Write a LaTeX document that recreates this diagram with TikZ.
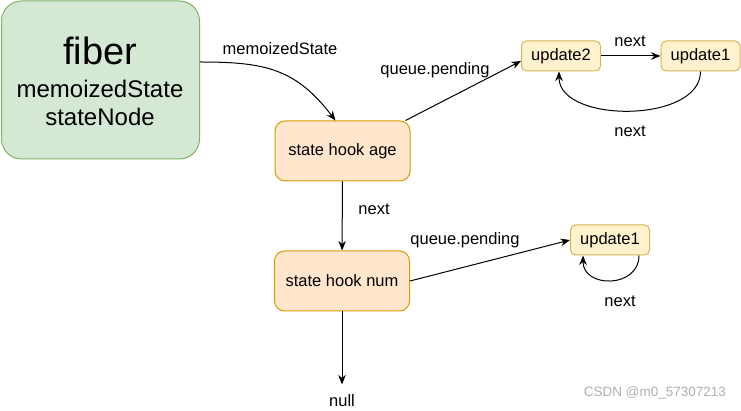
\documentclass[tikz,border=0pt]{standalone}
\usepackage{fontspec}
\setmainfont{Liberation Sans}
\usepackage{tikz}
\usetikzlibrary{arrows.meta}

\definecolor{fibfill}{HTML}{D5E8D4}
\definecolor{fibline}{HTML}{82B366}
\definecolor{hookfill}{HTML}{FFE6CC}
\definecolor{hookline}{HTML}{D79B00}
\definecolor{updfill}{HTML}{FFF2CC}
\definecolor{updline}{HTML}{D6B656}
\definecolor{markgray}{RGB}{175,175,175}

\tikzset{
  hookbox/.style={draw=hookline, fill=hookfill, line width=1pt, rounded corners=10pt,
    minimum width=135pt, minimum height=60pt},
  updbox/.style={draw=updline, fill=updfill, line width=1pt, rounded corners=5pt,
    minimum width=79pt, minimum height=30pt},
  lbl/.style={inner sep=0pt}
}

\begin{document}
\begin{tikzpicture}[x=1pt, y=-1pt, line width=1pt,
  >={Stealth[length=9.5pt,width=7.5pt,inset=3pt]},
  every node/.style={font=\fontsize{16.5}{19}\selectfont}]
    \useasboundingbox (0,0) rectangle (741,411);

    % Fiber box on the left
    \node[draw=fibline, fill=fibfill, line width=1pt, rounded corners=20pt,
      minimum width=198pt, minimum height=158pt] (fiber) at (100.5,80) {};
    \node[lbl, anchor=base, font=\fontsize{38}{40}\selectfont] (fibtitle) at (100,65) {fiber};
    \node[lbl, anchor=base, font=\fontsize{24}{27}\selectfont] (fibstate) at (100,98) {memoizedState};
    \node[lbl, anchor=base, font=\fontsize{24}{27}\selectfont] (fibnode) at (100,126) {stateNode};

    % Hook list
    \node[hookbox] (age) at (342.5,151) {state hook age};
    \node[hookbox] (num) at (342,281) {state hook num};
    \node[lbl] (nul) at (342,401) {null};

    % Update queues
    \node[updbox] (upa) at (561,56) {update2};
    \node[updbox] (upb) at (700.5,56) {update1};
    \node[updbox] (upc) at (610,240) {update1};

    % Connectors
    \draw[->] ([yshift=18pt]fiber.east) .. controls +(65,0) and +(-40,-52) .. ([xshift=-7pt]age.north);
    \draw[->] (age) -- (num);
    \draw[->] (num) -- ([yshift=10pt]nul.north);
    \draw[->] ([xshift=-5pt]age.north east) -- ([yshift=-5pt]upa.west);
    \draw[->] (upa) -- (upb);
    \draw[->] (upb.south) .. controls +(0,52) and +(0,52) .. ([xshift=-2pt]upa.south);
    \draw[->] (num.east) -- (upc.west);
    \draw[->] ([xshift=29pt]upc.south) .. controls +(0,33) and +(0,33) .. ([xshift=-27pt]upc.south);

    % Labels
    \node[lbl] (lmemo) at (280,49) {memoizedState};
    \node[lbl] (lqa) at (435,70) {queue.pending};
    \node[lbl] (lnexta) at (630,41) {next};
    \node[lbl] (lnextb) at (630,131) {next};
    \node[lbl] (lnextc) at (374,209) {next};
    \node[lbl] (lqb) at (465,240) {queue.pending};
    \node[lbl] (lnextd) at (620,301) {next};

    % Watermark
    \node[lbl, text=markgray, font=\fontsize{13.5}{16}\selectfont] (mark) at (655,393) {CSDN @m0\_57307213};
\end{tikzpicture}
\end{document}
